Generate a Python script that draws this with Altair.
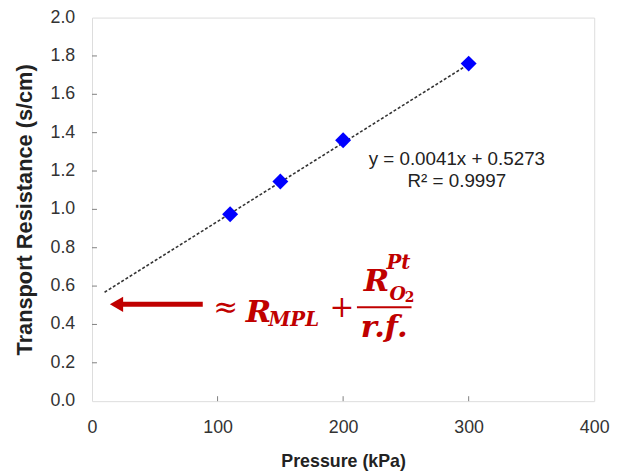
import altair as alt
import pandas as pd

# ---- data ----
pressure = [110, 150, 200, 300]
resistance = [0.975, 1.145, 1.36, 1.76]
trend_x = [10, 300]
trend_y = [0.568, 1.757]
x_ticks = [0, 100, 200, 300, 400]
y_ticks = [0.0, 0.2, 0.4, 0.6, 0.8, 1.0, 1.2, 1.4, 1.6, 1.8, 2.0]
x_inner_ticks = [100, 200, 300]
y_inner_ticks = [0.2, 0.4, 0.6, 0.8, 1.0, 1.2, 1.4, 1.6, 1.8]
eq_text = ["y = 0.0041x + 0.5273", "R² = 0.9997"]

W, H = 508, 388
RED = "#C00000"
SANS = "Liberation Sans"
SERIF = "DejaVu Serif"

pts = pd.DataFrame({"p": pressure, "r": resistance})
trend = pd.DataFrame({"p": trend_x, "r": trend_y})
xt = pd.DataFrame({"p": x_inner_ticks})
yt = pd.DataFrame({"r": y_inner_ticks})
ylab = pd.DataFrame({"r": y_ticks})

xs = alt.Scale(domain=[0, 400], nice=False, zero=True)
ys = alt.Scale(domain=[0, 2], nice=False, zero=True)

x_axis = alt.Axis(values=x_ticks, title="Pressure (kPa)", ticks=False, domain=False, grid=False,
                  labelFontSize=18, labelFont=SANS, labelColor="#333333", labelPadding=18,
                  labelFlush=False, labelOverlap=False, titleFont=SANS, titleFontSize=18,
                  titleFontWeight="bold", titleColor="#222222", titleY=61, titleBaseline="middle")
y_axis = alt.Axis(values=y_ticks, labels=False, title="Transport Resistance (s/cm)", ticks=False,
                  domain=False, grid=False,
                  titleFont=SANS, titleFontSize=22, titleFontWeight="bold", titleColor="#222222",
                  titleX=-68, titleY=H / 2, titleAlign="center", titleBaseline="middle", titleAngle=-90)

trend_line = alt.Chart(trend).mark_line(color="#333333", strokeWidth=1.6, strokeDash=[3, 2]).encode(
    x=alt.X("p:Q", scale=xs, axis=x_axis), y=alt.Y("r:Q", scale=ys, axis=y_axis))

points = alt.Chart(pts).mark_point(shape="diamond", filled=True, color="#0000FF", size=260, opacity=1).encode(
    x=alt.X("p:Q", scale=xs), y=alt.Y("r:Q", scale=ys))

xtick_marks = alt.Chart(xt).mark_rule(color="#808080", strokeWidth=1).encode(
    x=alt.X("p:Q", scale=xs), y=alt.value(H), y2=alt.value(H - 5))
ytick_marks = alt.Chart(yt).mark_rule(color="#808080", strokeWidth=1).encode(
    y=alt.Y("r:Q", scale=ys), x=alt.value(0), x2=alt.value(5))

# y tick labels drawn as text through the y scale
ytick_labels = alt.Chart(ylab).mark_text(font=SANS, fontSize=18, color="#333333",
                                         align="right", baseline="middle").encode(
    y=alt.Y("r:Q", scale=ys), x=alt.value(-17), text=alt.Text("r:Q", format=".1f"))

eq1 = alt.Chart().mark_text(text=eq_text[0], font=SANS, fontSize=19, color="#222222",
                            align="center", baseline="middle").encode(
    x=alt.datum(290.6, scale=xs), y=alt.datum(1.263, scale=ys))
eq2 = alt.Chart().mark_text(text=eq_text[1], font=SANS, fontSize=19, color="#222222",
                            align="center", baseline="middle").encode(
    x=alt.datum(290.6, scale=xs), y=alt.datum(1.149, scale=ys))

# arrow
arrow_line = alt.Chart().mark_rule(color=RED, strokeWidth=5).encode(
    x=alt.datum(88.2, scale=xs), x2=alt.datum(21.0), y=alt.datum(0.505, scale=ys))
arrow_head = alt.Chart().mark_point(shape="triangle-left", filled=True, color=RED, size=240, opacity=1).encode(
    x=alt.datum(19.5, scale=xs), y=alt.datum(0.505, scale=ys))


def txt(t, x, y, size, align="left", style="italic", weight="bold", baseline="alphabetic"):
    return alt.Chart().mark_text(text=t, font=SERIF, fontSize=size, fontStyle=style, fontWeight=weight,
                                 color=RED, align=align, baseline=baseline).encode(
        x=alt.datum(x, scale=xs), y=alt.datum(y, scale=ys))


approx = txt("≈", 106.5, 0.485, 30, align="center", style="normal", weight="normal", baseline="middle")
R_main = txt("R", 122.5, 0.415, 31)
mpl = txt("MPL", 140.5, 0.39, 20)
plus = txt("+", 199.0, 0.485, 30, align="center", style="normal", weight="normal", baseline="middle")
frac_bar = alt.Chart().mark_rule(color=RED, strokeWidth=2).encode(
    x=alt.datum(211.0, scale=xs), x2=alt.datum(254.5), y=alt.datum(0.49, scale=ys))
R_num = txt("R", 216.5, 0.572, 31)
pt = txt("Pt", 234.5, 0.69, 20)
o_sub = txt("O", 237.0, 0.53, 19)
two_sub = txt("2", 249.0, 0.515, 14, style="normal")
denom = txt("r.f.", 232.7, 0.335, 31, align="center")

chart = alt.layer(
    trend_line, points, xtick_marks, ytick_marks, ytick_labels, eq1, eq2, arrow_line, arrow_head,
    approx, R_main, mpl, plus, frac_bar, R_num, pt, o_sub, two_sub, denom
).properties(
    width=W, height=H,
    autosize=alt.AutoSizeParams(type="none"),
    padding={"left": 85, "top": 7, "right": 18, "bottom": 72},
).configure_view(
    stroke="#404040", strokeWidth=2
).configure(background="white")

chart.save("out.html", embed_options={"renderer": "svg", "actions": False})
